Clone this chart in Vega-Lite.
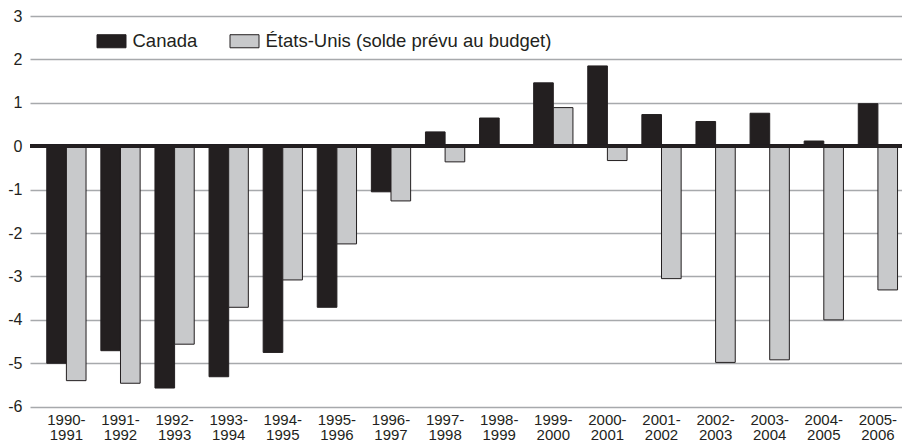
{
  "$schema": "https://vega.github.io/schema/vega-lite/v6.json",
  "autosize": "none",
  "width": 872,
  "height": 390.7,
  "padding": {"left": 30, "top": 16, "right": 0, "bottom": 37.3},
  "background": "white",
  "config": {
    "view": {"stroke": null},
    "font": "Liberation Sans",
    "axis": {"labelFont": "Liberation Sans", "labelColor": "#231f20", "domain": false, "ticks": false}
  },
  "data": {
    "values": [
      {"year": "1990- 1991", "series": "Canada", "value": -5.0},
      {"year": "1991- 1992", "series": "Canada", "value": -4.71},
      {"year": "1992- 1993", "series": "Canada", "value": -5.57},
      {"year": "1993- 1994", "series": "Canada", "value": -5.31},
      {"year": "1994- 1995", "series": "Canada", "value": -4.75},
      {"year": "1995- 1996", "series": "Canada", "value": -3.71},
      {"year": "1996- 1997", "series": "Canada", "value": -1.05},
      {"year": "1997- 1998", "series": "Canada", "value": 0.33},
      {"year": "1998- 1999", "series": "Canada", "value": 0.65},
      {"year": "1999- 2000", "series": "Canada", "value": 1.46},
      {"year": "2000- 2001", "series": "Canada", "value": 1.85},
      {"year": "2001- 2002", "series": "Canada", "value": 0.73},
      {"year": "2002- 2003", "series": "Canada", "value": 0.57},
      {"year": "2003- 2004", "series": "Canada", "value": 0.76},
      {"year": "2004- 2005", "series": "Canada", "value": 0.12},
      {"year": "2005- 2006", "series": "Canada", "value": 0.98},
      {"year": "1990- 1991", "series": "États-Unis (solde prévu au budget)", "value": -5.40},
      {"year": "1991- 1992", "series": "États-Unis (solde prévu au budget)", "value": -5.46},
      {"year": "1992- 1993", "series": "États-Unis (solde prévu au budget)", "value": -4.56},
      {"year": "1993- 1994", "series": "États-Unis (solde prévu au budget)", "value": -3.71},
      {"year": "1994- 1995", "series": "États-Unis (solde prévu au budget)", "value": -3.08},
      {"year": "1995- 1996", "series": "États-Unis (solde prévu au budget)", "value": -2.25},
      {"year": "1996- 1997", "series": "États-Unis (solde prévu au budget)", "value": -1.26},
      {"year": "1997- 1998", "series": "États-Unis (solde prévu au budget)", "value": -0.36},
      {"year": "1998- 1999", "series": "États-Unis (solde prévu au budget)", "value": 0},
      {"year": "1999- 2000", "series": "États-Unis (solde prévu au budget)", "value": 0.89},
      {"year": "2000- 2001", "series": "États-Unis (solde prévu au budget)", "value": -0.33},
      {"year": "2001- 2002", "series": "États-Unis (solde prévu au budget)", "value": -3.05},
      {"year": "2002- 2003", "series": "États-Unis (solde prévu au budget)", "value": -4.98},
      {"year": "2003- 2004", "series": "États-Unis (solde prévu au budget)", "value": -4.92},
      {"year": "2004- 2005", "series": "États-Unis (solde prévu au budget)", "value": -4.00},
      {"year": "2005- 2006", "series": "États-Unis (solde prévu au budget)", "value": -3.31}
    ]
  },
  "layer": [
    {
      "mark": {"type": "bar", "stroke": "#231f20", "strokeWidth": 1},
      "encoding": {
        "x": {
          "field": "year", "type": "nominal", "sort": null,
          "scale": {"paddingInner": 0.274, "paddingOuter": 0.196, "align": 0.79},
          "axis": {"title": null, "labelAngle": 0, "labelFontSize": 15, "labelPadding": 6, "labelLineHeight": 15, "labelBaseline": "top", "labelExpr": "split(datum.label, ' ')"}
        },
        "xOffset": {"field": "series", "type": "nominal", "sort": null, "scale": {"paddingInner": 0, "paddingOuter": 0}},
        "y": {
          "field": "value", "type": "quantitative",
          "scale": {"domain": [-6, 3], "nice": false, "zero": false},
          "axis": {"title": null, "values": [-6, -5, -4, -3, -2, -1, 0, 1, 2, 3], "labelExpr": "'' + datum.value", "labelFontSize": 16, "labelPadding": 8, "grid": true, "gridColor": "#a7a9ac", "gridWidth": 1.5}
        },
        "color": {
          "field": "series", "type": "nominal", "sort": null,
          "scale": {"range": ["#231f20", "#c8c9cb"]},
          "legend": {
            "title": null, "orient": "none", "legendX": 66.5, "legendY": 10, "direction": "horizontal",
            "symbolType": "M-1,-0.45L1,-0.45L1,0.45L-1,0.45Z", "symbolSize": 841,
            "symbolStrokeColor": "#231f20", "symbolStrokeWidth": 1, "symbolOpacity": 1,
            "labelFont": "Liberation Sans", "labelFontSize": 18.5, "labelColor": "#231f20",
            "labelOffset": 6, "columnPadding": 30, "labelLimit": 0
          }
        }
      }
    },
    {
      "mark": {"type": "rule", "color": "#231f20", "strokeWidth": 3},
      "encoding": {"y": {"datum": 0}}
    }
  ]
}
